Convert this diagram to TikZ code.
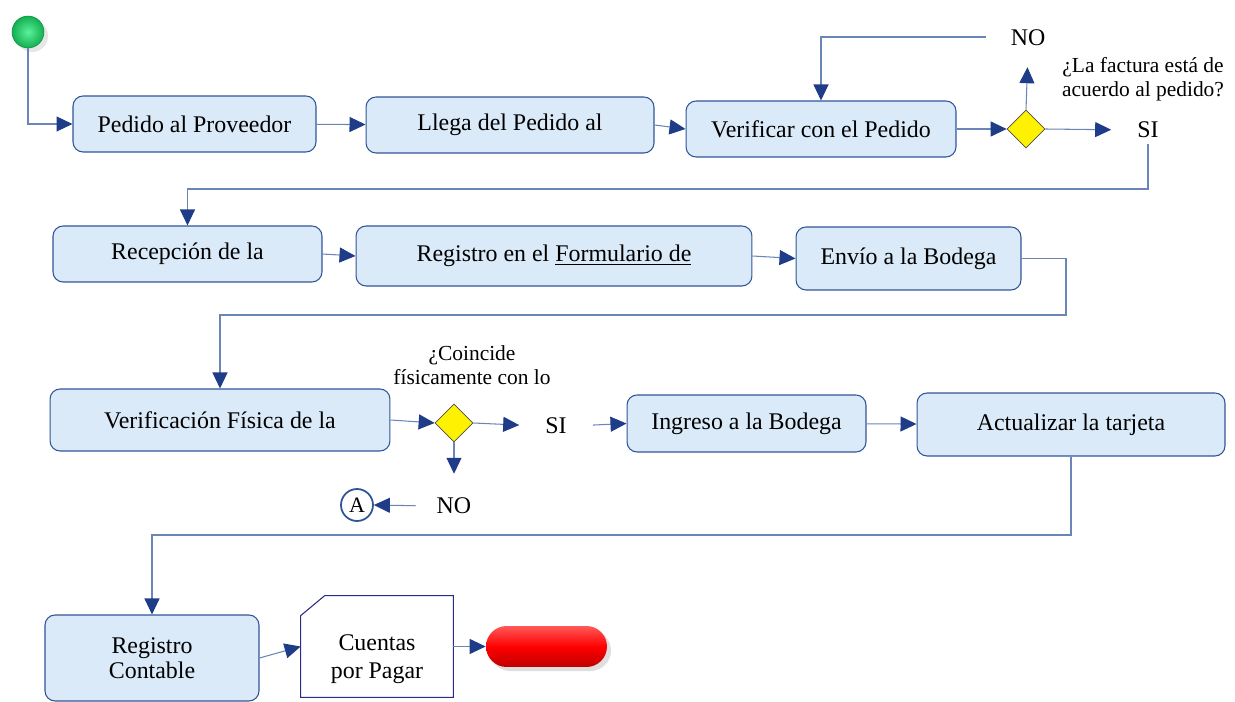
\documentclass[tikz,border=0pt]{standalone}
\usepackage{fontspec}
\setmainfont{Liberation Serif}
\newfontfamily\letra{Liberation Serif}
\usetikzlibrary{arrows.meta,shapes.geometric,shadows}

\definecolor{cajaazul}{HTML}{DAEAF8}
\definecolor{bordeazul}{HTML}{2F5597}
\definecolor{lineaazul}{HTML}{6A86B8}
\definecolor{puntaazul}{HTML}{1F3C88}
\definecolor{docborde}{HTML}{2B2A8C}
\definecolor{inicioverde}{HTML}{12B050}
\definecolor{brilloverde}{HTML}{5CF09A}

\tikzset{
    caja/.style={draw=bordeazul, fill=cajaazul, rounded corners=0.2cm, line width=0.6pt, inner sep=2pt, font=\letra\fontsize{13.6}{14.5}\selectfont, align=center},
    decision/.style={diamond, draw=black!70, fill=yellow, inner sep=0pt, minimum width=0.76cm, minimum height=0.76cm},
    flecha/.style={draw=lineaazul, line width=0.6pt, -{Triangle[length=0.32cm,width=0.3cm,color=puntaazul,fill=puntaazul]}},
    texto/.style={font=\letra\fontsize{13.6}{14.5}\selectfont},
    nota/.style={font=\letra\fontsize{12.2}{13.6}\selectfont, align=center},
}

\begin{document}
\begin{tikzpicture}[x=0.02cm, y=-0.02cm]
        \useasboundingbox (0,0) rectangle (1235,702);

        \node[circle, inner color=brilloverde, outer color=inicioverde, draw=inicioverde!80!black, line width=0.3pt, minimum size=0.64cm, inner sep=0pt, drop shadow={opacity=0.2}] (inicio) at (28,32) {};

        \node[caja, minimum width=4.86cm, minimum height=1.12cm] (Pedido) at (194.5,124) {Pedido al Proveedor};
        \node[caja, minimum width=5.76cm, minimum height=1.12cm] (Llega) at (510,125) {Llega del Pedido al};
        \node[caja, minimum width=5.4cm, minimum height=1.12cm] (Verificar) at (821,129) {Verificar con el Pedido};
        \node[decision] (Dec1) at (1026,129) {};
        \node[texto] (NOa) at (1028,38) {NO};
        \node[texto] (SIa) at (1148,130) {SI};
        \node[nota] (Preg1) at (1143,79) {¿La factura está de\\acuerdo al pedido?};

        \node[caja, minimum width=5.38cm, minimum height=1.12cm] (Recepcion) at (187.5,254) {Recepción de la};
        \node[caja, minimum width=7.92cm, minimum height=1.2cm] (Registro) at (554,256) {Registro en el \underline{Formulario de}};
        \node[caja, minimum width=4.5cm, minimum height=1.26cm] (Envio) at (908.5,258.5) {Envío a la Bodega};

        \node[caja, minimum width=6.8cm, minimum height=1.24cm] (VerifFis) at (220,420) {Verificación Física de la};
        \node[decision] (Dec2) at (454,423) {};
        \node[nota] (Preg2) at (472,365) {¿Coincide\\físicamente con lo};
        \node[texto] (SIb) at (556,426) {SI};
        \node[texto] (NOb) at (454,506) {NO};
        \node[circle, draw=bordeazul, line width=1pt, fill=white, minimum size=0.64cm, inner sep=0pt, font=\letra\fontsize{12.5}{14}\selectfont] (A) at (357,505) {A};
        \node[caja, minimum width=4.78cm, minimum height=1.14cm] (Ingreso) at (746.5,423.5) {Ingreso a la Bodega};
        \node[caja, minimum width=6.16cm, minimum height=1.26cm] (Actualizar) at (1071,424.5) {Actualizar la tarjeta};

        \node[caja, minimum width=4.28cm, minimum height=1.72cm] (RegCont) at (152,658) {Registro\\Contable};
        \node[minimum width=3.04cm, minimum height=2.02cm, inner sep=0pt] (Cuentas) at (377,646.5) {};
        \draw[docborde, fill=white, line width=0.6pt] ([yshift=-0.4cm]Cuentas.north west) -- ([xshift=0.48cm]Cuentas.north west) -- (Cuentas.north east) -- (Cuentas.south east) -- (Cuentas.south west) -- cycle;
        \node[font=\letra\fontsize{13.6}{16}\selectfont, align=center] at ([yshift=-0.25cm]Cuentas.center) {Cuentas\\por Pagar};
        \node[rounded corners=0.41cm, minimum width=2.42cm, minimum height=0.82cm, top color=red!65!white, bottom color=red!75!black, middle color=red, drop shadow={opacity=0.25}] (fin) at (546.5,646.5) {};

        \coordinate (c0) at (986,37);
        \coordinate (c1) at (1146,189);
        \coordinate (c2) at (1066,315);
        \coordinate (c3) at (1071,535);

        \draw[flecha] (inicio.south) |- (Pedido.west);
        \draw[flecha] (Pedido) -- (Llega);
        \draw[flecha] (Llega.east) -- (Verificar.west);
        \draw[flecha] (Verificar.east) -- (Dec1.west);
        \draw[flecha, shorten >=0.3cm] (Dec1.north) -- (NOa.south);
        \draw[flecha, shorten >=0.4cm] (Dec1.east) -- (SIa.west);
        \draw[flecha] (c0) -| (Verificar.north);
        \draw[flecha] (SIa.south) |- (c1) -| (Recepcion.north);
        \draw[flecha] (Recepcion.east) -- (Registro.west);
        \draw[flecha] (Registro.east) -- (Envio.west);
        \draw[flecha] (Envio.east) -| (c2) -| (VerifFis.north);
        \draw[flecha] (VerifFis.east) -- (Dec2.west);
        \draw[flecha, shorten >=0.4cm] (Dec2.east) -- (SIb.west);
        \draw[flecha, shorten <=0.4cm] (SIb.east) -- (Ingreso.west);
        \draw[flecha, shorten >=0.36cm] (Dec2.south) -- (NOb.north);
        \draw[flecha, shorten <=0.3cm] (NOb.west) -- (A.east);
        \draw[flecha] (Ingreso) -- (Actualizar);
        \draw[flecha] (Actualizar.south) |- (c3) -| (RegCont.north);
        \draw[flecha] (RegCont.east) -- (Cuentas.west);
        \draw[flecha] (Cuentas.east) -- (fin.west);
    \end{tikzpicture}
\end{document}
